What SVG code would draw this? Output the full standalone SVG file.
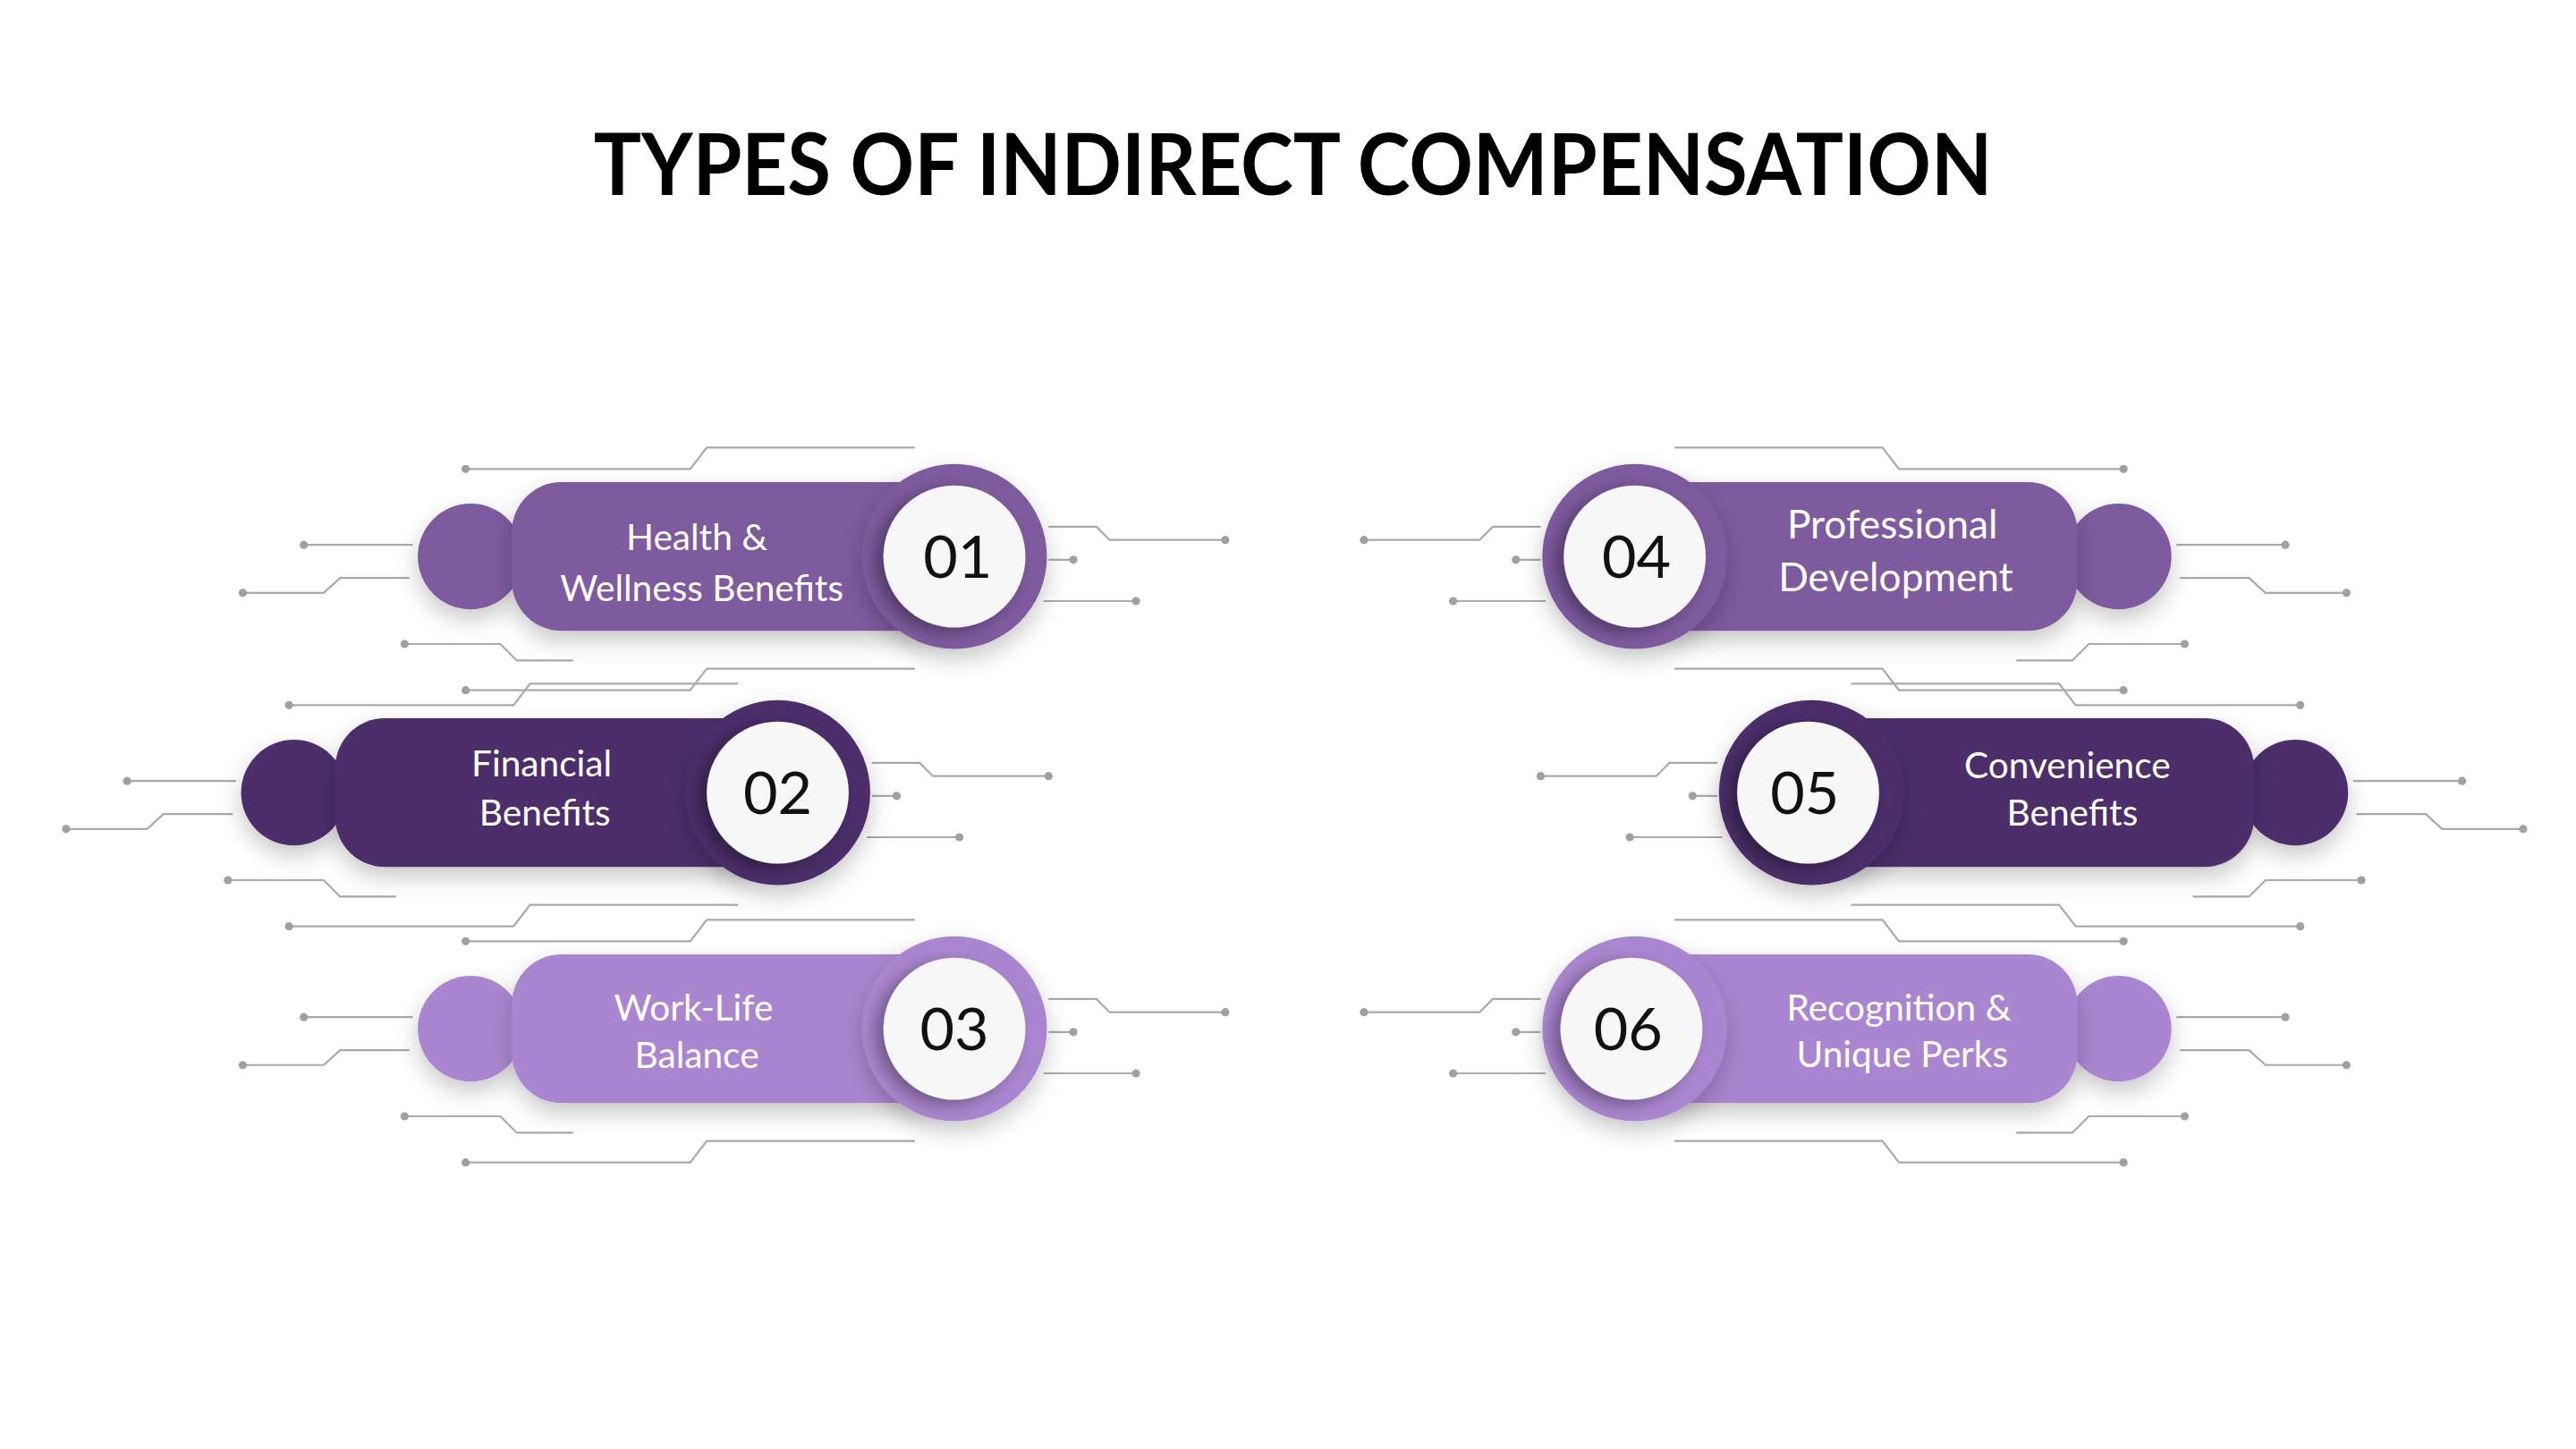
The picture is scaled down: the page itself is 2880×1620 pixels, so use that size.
<svg xmlns="http://www.w3.org/2000/svg" xmlns:xlink="http://www.w3.org/1999/xlink" width="2880" height="1620" viewBox="0 0 2880 1620">
<style>
.ln{fill:none;stroke:#A9A9A9;stroke-width:1.2}
.dt{fill:#A0A0A0}
.lbl{font-family:Lato,"Open Sans",sans-serif;font-size:22px;fill:#fff;text-anchor:middle}
.num{font-family:Lato,"Open Sans",sans-serif;font-size:36px;fill:#111;text-anchor:middle}
.title{font-family:Lato,"Liberation Sans",sans-serif;font-weight:bold;font-size:52px;fill:#000;text-anchor:middle}
.c1{fill:#7E5A9E}.c2{fill:#4B2E6B}.c3{fill:#AB86D0}
</style>
<defs>
<filter id="sh" x="-30%" y="-40%" width="160%" height="180%"><feDropShadow dx="0" dy="6" stdDeviation="7" flood-color="#000" flood-opacity="0.22"/></filter>
<filter id="sh2" x="-30%" y="-30%" width="160%" height="160%"><feDropShadow dx="-5" dy="3" stdDeviation="5" flood-color="#000" flood-opacity="0.35"/></filter>
<g id="circ">
<path class="ln" d="M-296,-53H-160L-150,-66H-24"/>
<path class="ln" d="M-296,81H-160L-150,68H-24"/>
<path class="ln" d="M-394,-7H-328"/>
<path class="ln" d="M-431,22H-382L-372,13H-330"/>
<path class="ln" d="M-333,53H-275L-265,63H-231"/>
<path class="ln" d="M57,-18H86L94,-10H164"/>
<path class="ln" d="M57,2H72"/>
<path class="ln" d="M54,27H110"/>
<circle class="dt" cx="-296" cy="-53" r="2.5"/><circle class="dt" cx="-296" cy="81" r="2.5"/>
<circle class="dt" cx="-394" cy="-7" r="2.5"/><circle class="dt" cx="-431" cy="22" r="2.5"/>
<circle class="dt" cx="-333" cy="53" r="2.5"/><circle class="dt" cx="164" cy="-10" r="2.5"/>
<circle class="dt" cx="72" cy="2" r="2.5"/><circle class="dt" cx="110" cy="27" r="2.5"/>
</g>
</defs>
<rect width="2880" height="1620" fill="#fff"/>
<g transform="scale(1.84615)">
<text class="title" x="783" y="118" textLength="847" lengthAdjust="spacingAndGlyphs">TYPES OF INDIRECT COMPENSATION</text>
<g id="connectors">
<use xlink:href="#circ" transform="translate(578,337)"/>
<use xlink:href="#circ" transform="translate(471,480)"/>
<use xlink:href="#circ" transform="translate(578,623)"/>
<use xlink:href="#circ" transform="translate(990,337) scale(-1,1)"/>
<use xlink:href="#circ" transform="translate(1097,480) scale(-1,1)"/>
<use xlink:href="#circ" transform="translate(990,623) scale(-1,1)"/>
</g>
<g id="node1">
<circle class="c1" cx="285" cy="337" r="32" filter="url(#sh)"/>
<rect class="c1" x="310" y="292" width="270" height="90" rx="30" filter="url(#sh)"/>
<circle class="c1" cx="578" cy="337" r="56" filter="url(#sh)"/>
<circle fill="#F7F7F7" cx="578" cy="337" r="43" filter="url(#sh2)"/>
<text class="num" x="580" y="350">01</text>
<text class="lbl" x="422" y="333">Health &amp;</text>
<text class="lbl" x="425" y="364">Wellness Benefits</text>
</g>
<g id="node2">
<circle class="c2" cx="178" cy="480" r="32" filter="url(#sh)"/>
<rect class="c2" x="203" y="435" width="270" height="90" rx="30" filter="url(#sh)"/>
<circle class="c2" cx="471" cy="480" r="56" filter="url(#sh)"/>
<circle fill="#F7F7F7" cx="471" cy="480" r="43" filter="url(#sh2)"/>
<text class="num" x="471" y="493">02</text>
<text class="lbl" x="328" y="470">Financial</text>
<text class="lbl" x="330" y="500">Benefits</text>
</g>
<g id="node3">
<circle class="c3" cx="285" cy="623" r="32" filter="url(#sh)"/>
<rect class="c3" x="310" y="578" width="270" height="90" rx="30" filter="url(#sh)"/>
<circle class="c3" cx="578" cy="623" r="56" filter="url(#sh)"/>
<circle fill="#F7F7F7" cx="578" cy="623" r="43" filter="url(#sh2)"/>
<text class="num" x="578" y="636">03</text>
<text class="lbl" x="420" y="618">Work-Life</text>
<text class="lbl" x="422" y="647">Balance</text>
</g>
<g id="node4">
<circle class="c1" cx="1283" cy="337" r="32" filter="url(#sh)"/>
<rect class="c1" x="990" y="292" width="268" height="90" rx="30" filter="url(#sh)"/>
<circle class="c1" cx="990" cy="337" r="56" filter="url(#sh)"/>
<circle fill="#F7F7F7" cx="990" cy="337" r="43" filter="url(#sh2)"/>
<text class="num" x="991" y="350">04</text>
<text class="lbl" x="1146" y="326" style="font-size:24px">Professional</text>
<text class="lbl" x="1148" y="358" style="font-size:24px">Development</text>
</g>
<g id="node5">
<circle class="c2" cx="1390" cy="480" r="32" filter="url(#sh)"/>
<rect class="c2" x="1097" y="435" width="268" height="90" rx="30" filter="url(#sh)"/>
<circle class="c2" cx="1097" cy="480" r="56" filter="url(#sh)"/>
<circle fill="#F7F7F7" cx="1095" cy="480" r="43" filter="url(#sh2)"/>
<text class="num" x="1093" y="493">05</text>
<text class="lbl" x="1252" y="471">Convenience</text>
<text class="lbl" x="1255" y="500">Benefits</text>
</g>
<g id="node6">
<circle class="c3" cx="1283" cy="623" r="32" filter="url(#sh)"/>
<rect class="c3" x="990" y="578" width="268" height="90" rx="30" filter="url(#sh)"/>
<circle class="c3" cx="990" cy="623" r="56" filter="url(#sh)"/>
<circle fill="#F7F7F7" cx="988" cy="623" r="43" filter="url(#sh2)"/>
<text class="num" x="986" y="636">06</text>
<text class="lbl" x="1150" y="618">Recognition &amp;</text>
<text class="lbl" x="1152" y="646">Unique Perks</text>
</g>
</g>
</svg>
